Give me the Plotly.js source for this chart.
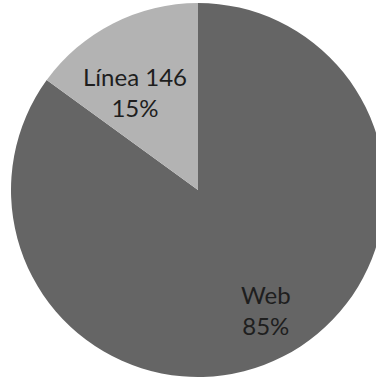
<!DOCTYPE html>
<html>
<head>
<meta charset="utf-8">
<script src="https://cdn.plot.ly/plotly-3.0.1.min.js"></script>
<style>
html,body{margin:0;padding:0;overflow:hidden;background:#fff;}
#chart{width:400px;height:380px;}
</style>
</head>
<body>
<div id="chart"></div>
<script>
var labels = ["Web", "Línea 146"];
var values = [85, 15];
var colors = ["#656565", "#b3b3b3"];

var total = values.reduce(function(a,b){return a+b;},0);
function pct(v){return Math.round(v/total*100) + "%";}

var W = 400, H = 380;
var trace = {
  type: "pie",
  labels: labels,
  values: values,
  sort: false,
  direction: "clockwise",
  rotation: 0,
  marker: {colors: colors, line: {width: 0}},
  textinfo: "none",
  hoverinfo: "none",
  showlegend: false,
  domain: {x: [11/W, 385/W], y: [3/H, 377/H]}
};

var labelPos = [[266, 310], [135, 92]];
var annotations = labels.map(function(l, i){
  return {
    xref: "paper", yref: "paper",
    x: labelPos[i][0]/W, y: 1 - labelPos[i][1]/H,
    xanchor: "center", yanchor: "middle",
    text: l + "<br>" + pct(values[i]),
    showarrow: false,
    font: {family: "Lato, 'Open Sans', sans-serif", size: 24, color: "#1e1e1e"}
  };
});

Plotly.newPlot("chart", [trace], {
  width: W, height: H,
  margin: {l:0, r:0, t:0, b:0},
  paper_bgcolor: "#ffffff",
  annotations: annotations
}, {displayModeBar: false, staticPlot: true});
</script>
</body>
</html>
